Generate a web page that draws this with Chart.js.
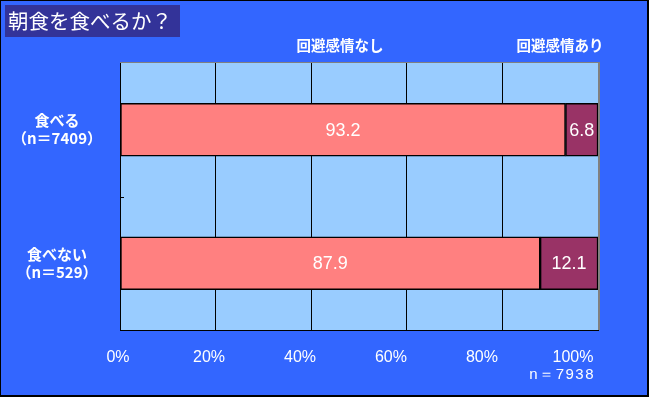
<!DOCTYPE html>
<html>
<head>
<meta charset="utf-8">
<script src="https://cdn.jsdelivr.net/npm/chart.js@4.4.0/dist/chart.umd.min.js"></script>
<style>
  html, body { margin: 0; padding: 0; background: #3366ff; }
  #wrap { width: 649px; height: 397px; }
</style>
</head>
<body>
<div id="wrap"><canvas id="breakfastChart" width="649" height="397"></canvas></div>
<script>
// données du graphique
const chartTitle = '朝食を食べるか？';
const categories = [['食べる', '（n＝7409）'], ['食べない', '（n＝529）']];
const seriesNames = ['回避感情なし', '回避感情あり'];
const noAvoidance = [93.2, 87.9];
const avoidance = [6.8, 12.1];
const xTicks = [0, 20, 40, 60, 80, 100];
const totalNote = 'n＝7938';

const jpFont = '"Noto Sans CJK JP", sans-serif';
const numFont = '"Liberation Sans", Arial, sans-serif';

// fond, cadre et titre
const backgroundPlugin = {
    id: 'background',
    beforeDraw(chart) {
        const { ctx, width, height, chartArea: a } = chart;
        ctx.save();
        ctx.fillStyle = '#000';
        ctx.fillRect(0, 0, width, height);
        ctx.fillStyle = '#3366ff';
        ctx.fillRect(1, 1, width - 3, height - 3);
        ctx.fillStyle = '#99ccff';
        ctx.fillRect(a.left, a.top, a.right - a.left, a.bottom - a.top);

        ctx.fillStyle = '#333399';
        ctx.fillRect(5, 5, 175, 32);
        ctx.fillStyle = '#fff';
        ctx.font = '20.5px ' + jpFont;
        ctx.textBaseline = 'middle';
        ctx.textAlign = 'left';
        ctx.fillText(chartTitle, 8, 21);
        ctx.restore();
    }
};

// étiquettes des valeurs, en-têtes de série, bordures
const overlayPlugin = {
    id: 'overlay',
    afterDatasetsDraw(chart) {
        const { ctx, chartArea: a, scales } = chart;
        ctx.save();

        ctx.fillStyle = '#fff';
        ctx.font = '18px ' + numFont;
        ctx.textAlign = 'center';
        ctx.textBaseline = 'middle';
        chart.data.datasets.forEach((ds, i) => {
            chart.getDatasetMeta(i).data.forEach((bar, j) => {
                const { x, base, y } = bar.getProps(['x', 'base', 'y'], true);
                ctx.fillText(ds.data[j].toFixed(1), (x + base) / 2, y + 1);
            });
        });

        // bordure grise haut / droite
        ctx.fillStyle = '#808080';
        ctx.fillRect(a.left, a.top - 1, a.right - a.left + 2, 1);
        ctx.fillRect(a.right, a.top - 1, 2, a.bottom - a.top + 1);

        // petite graduation entre les catégories
        const midY = (scales.y.getPixelForValue(0) + scales.y.getPixelForValue(1)) / 2;
        ctx.fillStyle = '#000';
        ctx.fillRect(a.left, Math.round(midY), 4, 1);

        // en-têtes des séries
        ctx.font = 'bold 14.5px ' + jpFont;
        ctx.fillStyle = '#fff';
        ctx.fillText(seriesNames[0], 340, 45);
        ctx.fillText(seriesNames[1], 560, 45);

        // effectif total
        ctx.font = '15px ' + numFont;
        ctx.letterSpacing = '1.5px';
        ctx.textAlign = 'right';
        ctx.fillText(totalNote, 595, 375);
        ctx.restore();
    }
};

new Chart(document.getElementById('breakfastChart'), {
    type: 'bar',
    data: {
        labels: categories,
        datasets: [{
            label: seriesNames[0],
            data: noAvoidance,
            backgroundColor: '#ff8080',
            borderColor: '#000',
            borderWidth: 1.5,
            borderSkipped: false,
            barThickness: 53
        }, {
            label: seriesNames[1],
            data: avoidance,
            backgroundColor: '#993366',
            borderColor: '#000',
            borderWidth: 1.5,
            borderSkipped: false,
            barThickness: 53
        }]
    },
    options: {
        indexAxis: 'y',
        responsive: false,
        animation: false,
        layout: {
            padding: { left: 0, top: 63, right: 51, bottom: 0 }
        },
        plugins: {
            legend: { display: false },
            tooltip: { enabled: false }
        },
        scales: {
            x: {
                type: 'linear',
                stacked: true,
                min: 0,
                max: 100,
                position: 'bottom',
                ticks: { display: false, stepSize: 20 },
                grid: {
                    color: (c) => (c.tick && c.tick.value === 100 ? '#808080' : '#000'),
                    lineWidth: 1,
                    drawTicks: false
                },
                border: { color: '#000', width: 1 },
                afterFit: (scale) => { scale.height = 0; }
            },
            xLabels: {
                type: 'linear',
                position: 'bottom',
                min: 0.44,
                max: 105.5,
                grid: { display: false, drawTicks: false },
                border: { display: false },
                ticks: {
                    color: '#fff',
                    autoSkip: false,
                    maxRotation: 0,
                    padding: 18,
                    font: { family: numFont, size: 16 },
                    callback: (v) => v + '%'
                },
                afterBuildTicks: (scale) => {
                    scale.ticks = xTicks.map(v => ({ value: v }));
                },
                afterFit: (scale) => { scale.height = 67; }
            },
            y: {
                stacked: true,
                offset: true,
                grid: { display: false, drawTicks: false },
                border: { color: '#000', width: 1 },
                ticks: {
                    color: '#fff',
                    crossAlign: 'center',
                    padding: 18,
                    font: { family: jpFont, size: 15, weight: 'bold', lineHeight: 1.2 }
                },
                afterFit: (scale) => { scale.width = 120; }
            }
        }
    },
    plugins: [backgroundPlugin, overlayPlugin]
});
</script>
</body>
</html>
